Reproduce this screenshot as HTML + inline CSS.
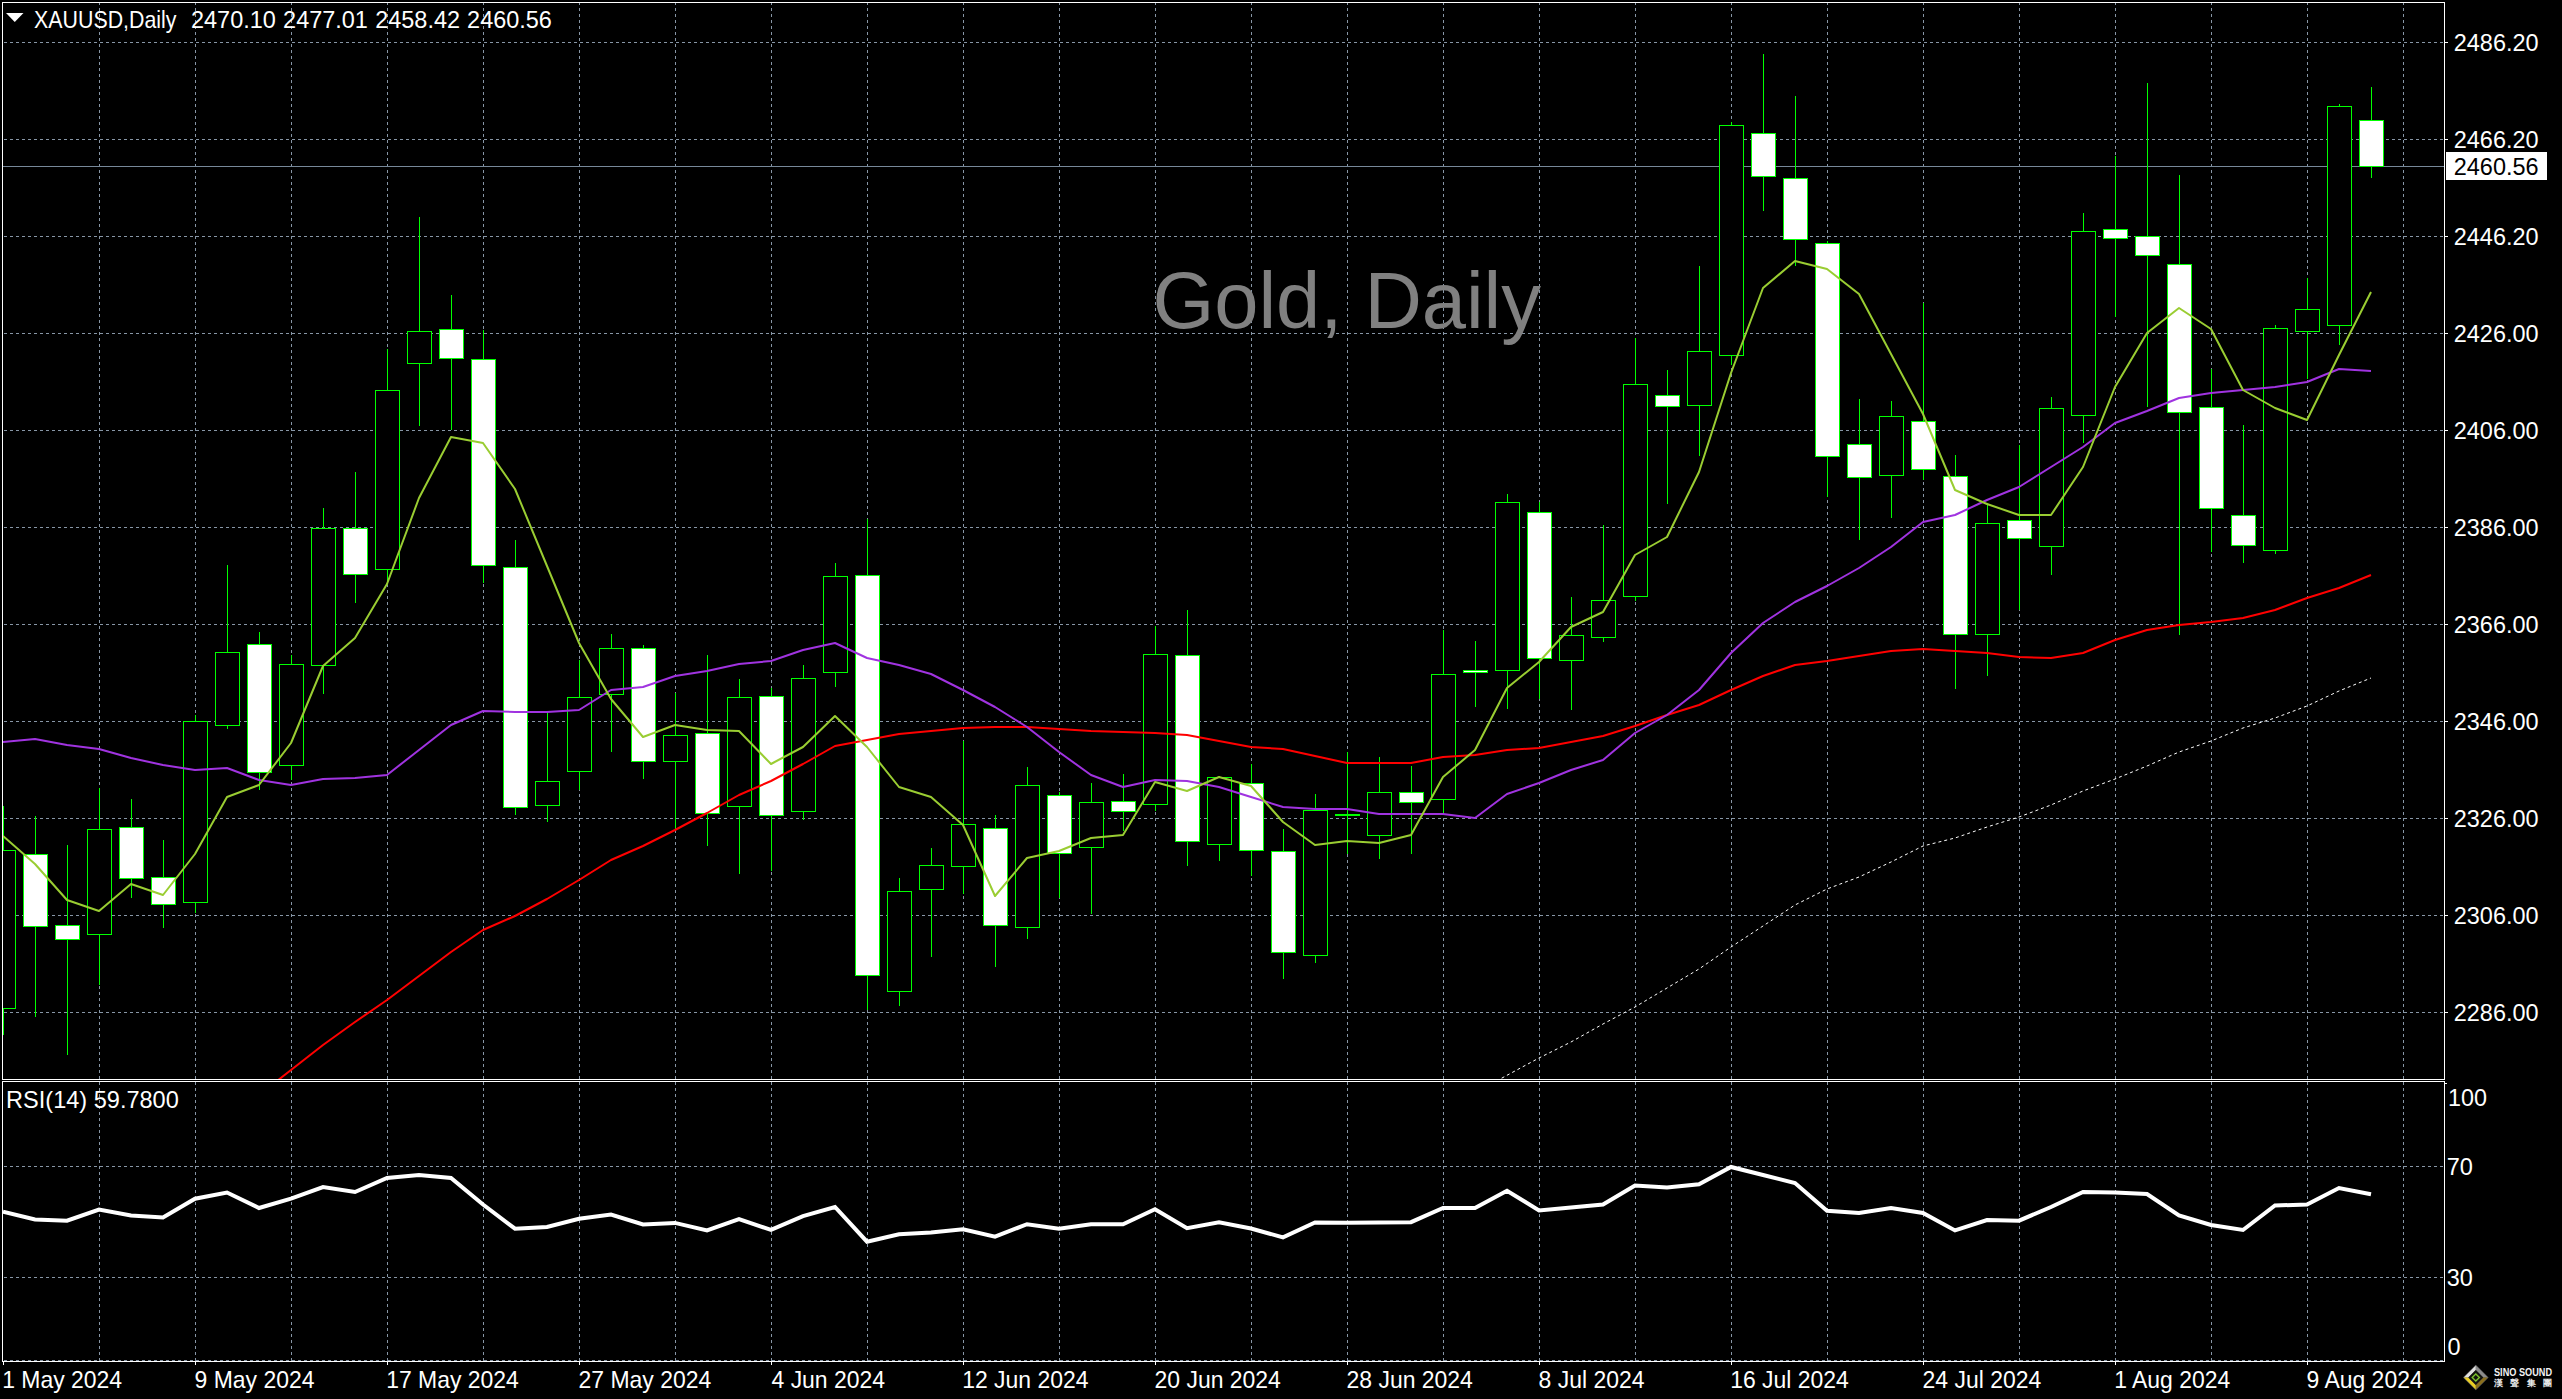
<!DOCTYPE html><html><head><meta charset="utf-8"><style>html,body{margin:0;padding:0;background:#000;width:2562px;height:1399px;overflow:hidden}svg{display:block}text{font-family:"Liberation Sans",sans-serif;fill:#fff}</style></head><body>
<svg width="2562" height="1399" viewBox="0 0 2562 1399">
<defs><clipPath id="cm"><rect x="3" y="3" width="2441" height="1076"/></clipPath><clipPath id="cr"><rect x="3" y="1082" width="2441" height="278"/></clipPath></defs>
<rect width="2562" height="1399" fill="#000"/>
<path d="M4 42.5H2444M4 139.5H2444M4 236.5H2444M4 333.5H2444M4 430.5H2444M4 527.5H2444M4 624.5H2444M4 721.5H2444M4 818.5H2444M4 915.5H2444M4 1012.5H2444M99.5 2V1079M99.5 1082V1361M195.5 2V1079M195.5 1082V1361M291.5 2V1079M291.5 1082V1361M387.5 2V1079M387.5 1082V1361M483.5 2V1079M483.5 1082V1361M579.5 2V1079M579.5 1082V1361M675.5 2V1079M675.5 1082V1361M771.5 2V1079M771.5 1082V1361M867.5 2V1079M867.5 1082V1361M963.5 2V1079M963.5 1082V1361M1059.5 2V1079M1059.5 1082V1361M1155.5 2V1079M1155.5 1082V1361M1251.5 2V1079M1251.5 1082V1361M1347.5 2V1079M1347.5 1082V1361M1443.5 2V1079M1443.5 1082V1361M1539.5 2V1079M1539.5 1082V1361M1635.5 2V1079M1635.5 1082V1361M1731.5 2V1079M1731.5 1082V1361M1827.5 2V1079M1827.5 1082V1361M1923.5 2V1079M1923.5 1082V1361M2019.5 2V1079M2019.5 1082V1361M2115.5 2V1079M2115.5 1082V1361M2211.5 2V1079M2211.5 1082V1361M2307.5 2V1079M2307.5 1082V1361M2403.5 2V1079M2403.5 1082V1361M4 1166.5H2444M4 1277.5H2444M4 1360.5H2444" stroke="#8796a6" stroke-width="1" stroke-dasharray="3 3" fill="none" shape-rendering="crispEdges"/>
<path d="M3 166.5H2444" stroke="#778899" stroke-width="1" shape-rendering="crispEdges"/>
<g clip-path="url(#cm)" shape-rendering="crispEdges">
<path d="M3.5 806V1035M35.5 816V1017M67.5 845V1055M99.5 788V985M131.5 799V898M163.5 840V928M195.5 715V913M227.5 565V729M259.5 632V790M291.5 655V780M323.5 508V694M355.5 472V603M387.5 349V585M419.5 217V426M451.5 295V430M483.5 330V583M515.5 540V815M547.5 713V822M579.5 660V790M611.5 634V752M643.5 645V779M675.5 693V829M707.5 655V846M739.5 679V874M771.5 688V871M803.5 665V820M835.5 563V687M867.5 519V1010M899.5 878V1006M931.5 848V957M963.5 741V894M995.5 815V967M1027.5 767V939M1059.5 792V898M1091.5 783V914M1123.5 774V831M1155.5 626V811M1187.5 610V866M1219.5 776V861M1251.5 764V876M1283.5 829V979M1315.5 794V963M1347.5 752V854M1379.5 757V859M1411.5 766V854M1443.5 630V814M1475.5 641V707M1507.5 494V709M1539.5 502V699M1571.5 597V710M1603.5 525V642M1635.5 338V601M1667.5 370V504M1699.5 266V456M1731.5 122V365M1763.5 54V211M1795.5 96V266M1827.5 241V497M1859.5 399V540M1891.5 401V518M1923.5 303V480M1955.5 455V689M1987.5 503V676M2019.5 445V610M2051.5 397V575M2083.5 213V443M2115.5 156V317M2147.5 83V407M2179.5 175V635M2211.5 369V552M2243.5 425V563M2275.5 325V554M2307.5 278V379M2339.5 104V345M2371.5 87V178" stroke="#00ff00" stroke-width="1"/>
<rect x="-8.5" y="850.5" width="24" height="158" fill="#000" stroke="#00ff00" stroke-width="1"/>
<rect x="23.5" y="854.5" width="24" height="72" fill="#fff" stroke="#00ff00" stroke-width="1"/>
<rect x="55.5" y="925.5" width="24" height="14" fill="#fff" stroke="#00ff00" stroke-width="1"/>
<rect x="87.5" y="829.5" width="24" height="105" fill="#000" stroke="#00ff00" stroke-width="1"/>
<rect x="119.5" y="827.5" width="24" height="51" fill="#fff" stroke="#00ff00" stroke-width="1"/>
<rect x="151.5" y="877.5" width="24" height="27" fill="#fff" stroke="#00ff00" stroke-width="1"/>
<rect x="183.5" y="721.5" width="24" height="181" fill="#000" stroke="#00ff00" stroke-width="1"/>
<rect x="215.5" y="652.5" width="24" height="73" fill="#000" stroke="#00ff00" stroke-width="1"/>
<rect x="247.5" y="644.5" width="24" height="128" fill="#fff" stroke="#00ff00" stroke-width="1"/>
<rect x="279.5" y="664.5" width="24" height="101" fill="#000" stroke="#00ff00" stroke-width="1"/>
<rect x="311.5" y="528.5" width="24" height="137" fill="#000" stroke="#00ff00" stroke-width="1"/>
<rect x="343.5" y="528.5" width="24" height="46" fill="#fff" stroke="#00ff00" stroke-width="1"/>
<rect x="375.5" y="390.5" width="24" height="179" fill="#000" stroke="#00ff00" stroke-width="1"/>
<rect x="407.5" y="331.5" width="24" height="32" fill="#000" stroke="#00ff00" stroke-width="1"/>
<rect x="439.5" y="329.5" width="24" height="29" fill="#fff" stroke="#00ff00" stroke-width="1"/>
<rect x="471.5" y="359.5" width="24" height="206" fill="#fff" stroke="#00ff00" stroke-width="1"/>
<rect x="503.5" y="567.5" width="24" height="240" fill="#fff" stroke="#00ff00" stroke-width="1"/>
<rect x="535.5" y="781.5" width="24" height="24" fill="#000" stroke="#00ff00" stroke-width="1"/>
<rect x="567.5" y="697.5" width="24" height="74" fill="#000" stroke="#00ff00" stroke-width="1"/>
<rect x="599.5" y="648.5" width="24" height="46" fill="#000" stroke="#00ff00" stroke-width="1"/>
<rect x="631.5" y="648.5" width="24" height="113" fill="#fff" stroke="#00ff00" stroke-width="1"/>
<rect x="663.5" y="735.5" width="24" height="26" fill="#000" stroke="#00ff00" stroke-width="1"/>
<rect x="695.5" y="733.5" width="24" height="80" fill="#fff" stroke="#00ff00" stroke-width="1"/>
<rect x="727.5" y="697.5" width="24" height="109" fill="#000" stroke="#00ff00" stroke-width="1"/>
<rect x="759.5" y="696.5" width="24" height="119" fill="#fff" stroke="#00ff00" stroke-width="1"/>
<rect x="791.5" y="678.5" width="24" height="133" fill="#000" stroke="#00ff00" stroke-width="1"/>
<rect x="823.5" y="576.5" width="24" height="96" fill="#000" stroke="#00ff00" stroke-width="1"/>
<rect x="855.5" y="575.5" width="24" height="400" fill="#fff" stroke="#00ff00" stroke-width="1"/>
<rect x="887.5" y="891.5" width="24" height="100" fill="#000" stroke="#00ff00" stroke-width="1"/>
<rect x="919.5" y="865.5" width="24" height="24" fill="#000" stroke="#00ff00" stroke-width="1"/>
<rect x="951.5" y="824.5" width="24" height="42" fill="#000" stroke="#00ff00" stroke-width="1"/>
<rect x="983.5" y="828.5" width="24" height="97" fill="#fff" stroke="#00ff00" stroke-width="1"/>
<rect x="1015.5" y="785.5" width="24" height="142" fill="#000" stroke="#00ff00" stroke-width="1"/>
<rect x="1047.5" y="795.5" width="24" height="58" fill="#fff" stroke="#00ff00" stroke-width="1"/>
<rect x="1079.5" y="802.5" width="24" height="45" fill="#000" stroke="#00ff00" stroke-width="1"/>
<rect x="1111.5" y="801.5" width="24" height="10" fill="#fff" stroke="#00ff00" stroke-width="1"/>
<rect x="1143.5" y="654.5" width="24" height="150" fill="#000" stroke="#00ff00" stroke-width="1"/>
<rect x="1175.5" y="655.5" width="24" height="186" fill="#fff" stroke="#00ff00" stroke-width="1"/>
<rect x="1207.5" y="777.5" width="24" height="67" fill="#000" stroke="#00ff00" stroke-width="1"/>
<rect x="1239.5" y="783.5" width="24" height="67" fill="#fff" stroke="#00ff00" stroke-width="1"/>
<rect x="1271.5" y="851.5" width="24" height="101" fill="#fff" stroke="#00ff00" stroke-width="1"/>
<rect x="1303.5" y="810.5" width="24" height="145" fill="#000" stroke="#00ff00" stroke-width="1"/>
<rect x="1335.5" y="814.5" width="24" height="1" fill="#fff" stroke="#00ff00" stroke-width="1"/>
<rect x="1367.5" y="792.5" width="24" height="43" fill="#000" stroke="#00ff00" stroke-width="1"/>
<rect x="1399.5" y="792.5" width="24" height="10" fill="#fff" stroke="#00ff00" stroke-width="1"/>
<rect x="1431.5" y="674.5" width="24" height="125" fill="#000" stroke="#00ff00" stroke-width="1"/>
<rect x="1463.5" y="670.5" width="24" height="2" fill="#fff" stroke="#00ff00" stroke-width="1"/>
<rect x="1495.5" y="502.5" width="24" height="168" fill="#000" stroke="#00ff00" stroke-width="1"/>
<rect x="1527.5" y="512.5" width="24" height="146" fill="#fff" stroke="#00ff00" stroke-width="1"/>
<rect x="1559.5" y="635.5" width="24" height="25" fill="#000" stroke="#00ff00" stroke-width="1"/>
<rect x="1591.5" y="600.5" width="24" height="37" fill="#000" stroke="#00ff00" stroke-width="1"/>
<rect x="1623.5" y="384.5" width="24" height="212" fill="#000" stroke="#00ff00" stroke-width="1"/>
<rect x="1655.5" y="395.5" width="24" height="11" fill="#fff" stroke="#00ff00" stroke-width="1"/>
<rect x="1687.5" y="351.5" width="24" height="54" fill="#000" stroke="#00ff00" stroke-width="1"/>
<rect x="1719.5" y="125.5" width="24" height="230" fill="#000" stroke="#00ff00" stroke-width="1"/>
<rect x="1751.5" y="133.5" width="24" height="43" fill="#fff" stroke="#00ff00" stroke-width="1"/>
<rect x="1783.5" y="178.5" width="24" height="61" fill="#fff" stroke="#00ff00" stroke-width="1"/>
<rect x="1815.5" y="243.5" width="24" height="213" fill="#fff" stroke="#00ff00" stroke-width="1"/>
<rect x="1847.5" y="444.5" width="24" height="33" fill="#fff" stroke="#00ff00" stroke-width="1"/>
<rect x="1879.5" y="416.5" width="24" height="59" fill="#000" stroke="#00ff00" stroke-width="1"/>
<rect x="1911.5" y="421.5" width="24" height="48" fill="#fff" stroke="#00ff00" stroke-width="1"/>
<rect x="1943.5" y="476.5" width="24" height="158" fill="#fff" stroke="#00ff00" stroke-width="1"/>
<rect x="1975.5" y="523.5" width="24" height="111" fill="#000" stroke="#00ff00" stroke-width="1"/>
<rect x="2007.5" y="520.5" width="24" height="18" fill="#fff" stroke="#00ff00" stroke-width="1"/>
<rect x="2039.5" y="408.5" width="24" height="138" fill="#000" stroke="#00ff00" stroke-width="1"/>
<rect x="2071.5" y="231.5" width="24" height="184" fill="#000" stroke="#00ff00" stroke-width="1"/>
<rect x="2103.5" y="229.5" width="24" height="9" fill="#fff" stroke="#00ff00" stroke-width="1"/>
<rect x="2135.5" y="236.5" width="24" height="19" fill="#fff" stroke="#00ff00" stroke-width="1"/>
<rect x="2167.5" y="264.5" width="24" height="148" fill="#fff" stroke="#00ff00" stroke-width="1"/>
<rect x="2199.5" y="407.5" width="24" height="101" fill="#fff" stroke="#00ff00" stroke-width="1"/>
<rect x="2231.5" y="515.5" width="24" height="30" fill="#fff" stroke="#00ff00" stroke-width="1"/>
<rect x="2263.5" y="328.5" width="24" height="222" fill="#000" stroke="#00ff00" stroke-width="1"/>
<rect x="2295.5" y="309.5" width="24" height="22" fill="#000" stroke="#00ff00" stroke-width="1"/>
<rect x="2327.5" y="106.5" width="24" height="219" fill="#000" stroke="#00ff00" stroke-width="1"/>
<rect x="2359.5" y="120.5" width="24" height="46" fill="#fff" stroke="#00ff00" stroke-width="1"/>
</g>
<g clip-path="url(#cm)" fill="none" stroke-linejoin="round">
<polyline points="1475.0,1092.0 1502.0,1078.0 1539.0,1058.0 1571.0,1042.0 1603.0,1024.0 1635.0,1007.0 1667.0,988.0 1699.0,969.0 1731.0,947.0 1763.0,926.0 1795.0,905.0 1827.0,889.0 1859.0,877.0 1891.0,862.0 1923.0,846.0 1955.0,838.0 1987.0,827.0 2019.0,817.0 2051.0,805.0 2083.0,791.0 2115.0,779.0 2147.0,766.0 2179.0,752.0 2211.0,741.0 2243.0,728.0 2275.0,718.0 2307.0,706.0 2339.0,691.0 2371.0,678.0" stroke="#ffffff" stroke-width="1" stroke-dasharray="3 3"/>
<polyline points="227.0,1120.0 259.0,1095.0 291.0,1070.0 323.0,1045.0 355.0,1022.0 387.0,1000.0 419.0,976.0 451.0,952.0 483.0,930.0 515.0,916.0 547.0,899.0 579.0,880.0 611.0,860.0 643.0,846.0 675.0,830.0 707.0,813.0 739.0,795.0 771.0,781.0 803.0,764.0 835.0,746.0 867.0,740.0 899.0,734.0 931.0,731.0 963.0,728.0 995.0,727.0 1027.0,727.0 1059.0,729.0 1091.0,731.0 1123.0,732.0 1155.0,733.0 1187.0,735.0 1219.0,741.0 1251.0,747.0 1283.0,749.0 1315.0,756.0 1347.0,763.0 1379.0,763.0 1411.0,763.0 1443.0,757.0 1475.0,755.0 1507.0,750.0 1539.0,748.0 1571.0,742.0 1603.0,736.0 1635.0,726.0 1667.0,715.0 1699.0,705.0 1731.0,690.0 1763.0,676.0 1795.0,665.0 1827.0,661.0 1859.0,656.0 1891.0,651.0 1923.0,649.0 1955.0,651.0 1987.0,653.0 2019.0,657.0 2051.0,658.0 2083.0,653.0 2115.0,640.0 2147.0,630.0 2179.0,625.0 2211.0,622.0 2243.0,618.0 2275.0,610.0 2307.0,598.0 2339.0,588.0 2371.0,575.0" stroke="#ff0000" stroke-width="2"/>
<polyline points="3.0,742.0 35.0,739.0 67.0,745.0 99.0,749.0 131.0,758.0 163.0,765.0 195.0,770.0 227.0,768.0 259.0,780.0 291.0,785.0 323.0,779.0 355.0,778.0 387.0,775.0 419.0,750.0 451.0,725.0 483.0,711.0 515.0,712.0 547.0,712.0 579.0,710.0 611.0,690.0 643.0,687.0 675.0,676.0 707.0,671.0 739.0,664.0 771.0,661.0 803.0,650.0 835.0,643.0 867.0,658.0 899.0,665.0 931.0,674.0 963.0,690.0 995.0,707.0 1027.0,727.0 1059.0,752.0 1091.0,775.0 1123.0,787.0 1155.0,780.0 1187.0,781.0 1219.0,787.0 1251.0,797.0 1283.0,807.0 1315.0,809.0 1347.0,809.0 1379.0,814.0 1411.0,814.0 1443.0,814.0 1475.0,818.0 1507.0,794.0 1539.0,783.0 1571.0,770.0 1603.0,760.0 1635.0,733.0 1667.0,715.0 1699.0,690.0 1731.0,653.0 1763.0,623.0 1795.0,602.0 1827.0,586.0 1859.0,568.0 1891.0,547.0 1923.0,522.0 1955.0,515.0 1987.0,500.0 2019.0,487.0 2051.0,467.0 2083.0,447.0 2115.0,423.0 2147.0,411.0 2179.0,398.0 2211.0,393.0 2243.0,390.0 2275.0,387.0 2307.0,382.0 2339.0,369.0 2371.0,371.0" stroke="#a033e0" stroke-width="2"/>
<polyline points="3.0,836.0 35.0,864.0 67.0,900.0 99.0,911.0 131.0,884.0 163.0,895.0 195.0,854.0 227.0,797.0 259.0,785.0 291.0,743.0 323.0,666.0 355.0,638.0 387.0,584.0 419.0,498.0 451.0,437.0 483.0,443.0 515.0,489.0 547.0,566.0 579.0,643.0 611.0,699.0 643.0,737.0 675.0,725.0 707.0,730.0 739.0,731.0 771.0,764.0 803.0,747.0 835.0,716.0 867.0,747.0 899.0,787.0 931.0,797.0 963.0,825.0 995.0,896.0 1027.0,858.0 1059.0,851.0 1091.0,838.0 1123.0,835.0 1155.0,782.0 1187.0,791.0 1219.0,777.0 1251.0,786.0 1283.0,822.0 1315.0,845.0 1347.0,841.0 1379.0,843.0 1411.0,835.0 1443.0,777.0 1475.0,750.0 1507.0,688.0 1539.0,662.0 1571.0,627.0 1603.0,612.0 1635.0,555.0 1667.0,537.0 1699.0,472.0 1731.0,373.0 1763.0,288.0 1795.0,261.0 1827.0,269.0 1859.0,294.0 1891.0,354.0 1923.0,414.0 1955.0,490.0 1987.0,504.0 2019.0,515.0 2051.0,515.0 2083.0,467.0 2115.0,387.0 2147.0,333.0 2179.0,308.0 2211.0,329.0 2243.0,390.0 2275.0,408.0 2307.0,420.0 2339.0,355.0 2371.0,292.0" stroke="#9acd32" stroke-width="2"/>
</g>
<g clip-path="url(#cr)"><polyline points="3.0,1211.7 35.0,1219.4 67.0,1220.7 99.0,1209.5 131.0,1215.5 163.0,1217.4 195.0,1198.7 227.0,1192.5 259.0,1208.0 291.0,1198.7 323.0,1187.0 355.0,1192.0 387.0,1178.0 419.0,1175.0 451.0,1178.0 483.0,1204.5 515.0,1228.7 547.0,1227.0 579.0,1218.7 611.0,1214.5 643.0,1224.4 675.0,1222.9 707.0,1230.4 739.0,1219.2 771.0,1229.9 803.0,1216.2 835.0,1207.0 867.0,1241.7 899.0,1234.2 931.0,1232.4 963.0,1229.2 995.0,1236.7 1027.0,1224.2 1059.0,1228.7 1091.0,1224.2 1123.0,1224.2 1155.0,1209.2 1187.0,1228.2 1219.0,1222.4 1251.0,1228.5 1283.0,1237.4 1315.0,1222.4 1347.0,1222.8 1379.0,1222.5 1411.0,1222.2 1443.0,1208.0 1475.0,1208.0 1507.0,1190.7 1539.0,1210.5 1571.0,1207.5 1603.0,1204.5 1635.0,1185.5 1667.0,1187.5 1699.0,1184.2 1731.0,1167.0 1763.0,1175.0 1795.0,1183.0 1827.0,1210.7 1859.0,1213.0 1891.0,1208.0 1923.0,1213.0 1955.0,1230.4 1987.0,1220.0 2019.0,1220.7 2051.0,1207.0 2083.0,1192.0 2115.0,1192.5 2147.0,1194.0 2179.0,1215.5 2211.0,1225.0 2243.0,1230.0 2275.0,1205.5 2307.0,1204.5 2339.0,1188.0 2371.0,1194.2" fill="none" stroke="#fff" stroke-width="4" stroke-linejoin="miter"/></g>
<g fill="none" stroke="#fff" stroke-width="1" shape-rendering="crispEdges">
<rect x="2.5" y="2.5" width="2442" height="1077"/>
<rect x="2.5" y="1081.5" width="2442" height="280"/>
<path d="M2445 42.5H2448M2445 139.5H2448M2445 236.5H2448M2445 333.5H2448M2445 430.5H2448M2445 527.5H2448M2445 624.5H2448M2445 721.5H2448M2445 818.5H2448M2445 915.5H2448M2445 1012.5H2448M2445 1083.5H2447M3.5 1362V1365M195.5 1362V1365M387.5 1362V1365M579.5 1362V1365M771.5 1362V1365M963.5 1362V1365M1155.5 1362V1365M1347.5 1362V1365M1539.5 1362V1365M1731.5 1362V1365M1923.5 1362V1365M2115.5 1362V1365M2307.5 1362V1365"/>
</g>
<rect x="2446" y="152" width="101" height="28" fill="#fff"/>
<text transform="translate(1152.43,328) scale(0.9933,1)" x="0" y="0" font-size="80" font-weight="400" style="fill:#808080">Gold, Daily</text>
<text transform="translate(34.11,28) scale(0.8899,1)" x="0" y="0" font-size="24" font-weight="400" style="fill:#fff">XAUUSD,Daily</text>
<text transform="translate(191.02,28) scale(0.9780,1)" x="0" y="0" font-size="24" font-weight="400" style="fill:#fff">2470.10</text>
<text transform="translate(283.12,28) scale(0.9780,1)" x="0" y="0" font-size="24" font-weight="400" style="fill:#fff">2477.01</text>
<text transform="translate(375.22,28) scale(0.9780,1)" x="0" y="0" font-size="24" font-weight="400" style="fill:#fff">2458.42</text>
<text transform="translate(467.12,28) scale(0.9780,1)" x="0" y="0" font-size="24" font-weight="400" style="fill:#fff">2460.56</text>
<text transform="translate(6.04,1108) scale(0.9815,1)" x="0" y="0" font-size="24" font-weight="400" style="fill:#fff">RSI(14) 59.7800</text>
<text transform="translate(2453.77,51) scale(0.9780,1)" x="0" y="0" font-size="24" font-weight="400" style="fill:#fff">2486.20</text>
<text transform="translate(2453.77,148) scale(0.9780,1)" x="0" y="0" font-size="24" font-weight="400" style="fill:#fff">2466.20</text>
<text transform="translate(2453.77,245) scale(0.9780,1)" x="0" y="0" font-size="24" font-weight="400" style="fill:#fff">2446.20</text>
<text transform="translate(2453.77,342) scale(0.9780,1)" x="0" y="0" font-size="24" font-weight="400" style="fill:#fff">2426.00</text>
<text transform="translate(2453.77,439) scale(0.9780,1)" x="0" y="0" font-size="24" font-weight="400" style="fill:#fff">2406.00</text>
<text transform="translate(2453.77,536) scale(0.9780,1)" x="0" y="0" font-size="24" font-weight="400" style="fill:#fff">2386.00</text>
<text transform="translate(2453.77,633) scale(0.9780,1)" x="0" y="0" font-size="24" font-weight="400" style="fill:#fff">2366.00</text>
<text transform="translate(2453.77,730) scale(0.9780,1)" x="0" y="0" font-size="24" font-weight="400" style="fill:#fff">2346.00</text>
<text transform="translate(2453.77,827) scale(0.9780,1)" x="0" y="0" font-size="24" font-weight="400" style="fill:#fff">2326.00</text>
<text transform="translate(2453.77,924) scale(0.9780,1)" x="0" y="0" font-size="24" font-weight="400" style="fill:#fff">2306.00</text>
<text transform="translate(2453.77,1021) scale(0.9780,1)" x="0" y="0" font-size="24" font-weight="400" style="fill:#fff">2286.00</text>
<text transform="translate(2453.77,175) scale(0.9782,1)" x="0" y="0" font-size="24" font-weight="400" style="fill:#000">2460.56</text>
<text transform="translate(2448.05,1106) scale(0.9730,1)" x="0" y="0" font-size="24" font-weight="400" style="fill:#fff">100</text>
<text transform="translate(2446.77,1175) scale(0.9820,1)" x="0" y="0" font-size="24" font-weight="400" style="fill:#fff">70</text>
<text transform="translate(2446.77,1286) scale(0.9780,1)" x="0" y="0" font-size="24" font-weight="400" style="fill:#fff">30</text>
<text transform="translate(2447.52,1355) scale(0.9780,1)" x="0" y="0" font-size="24" font-weight="400" style="fill:#fff">0</text>
<text transform="translate(2.15,1388) scale(0.9570,1)" x="0" y="0" font-size="24" font-weight="400" style="fill:#fff">1 May 2024</text>
<text transform="translate(194.54,1388) scale(0.9570,1)" x="0" y="0" font-size="24" font-weight="400" style="fill:#fff">9 May 2024</text>
<text transform="translate(386.15,1388) scale(0.9570,1)" x="0" y="0" font-size="24" font-weight="400" style="fill:#fff">17 May 2024</text>
<text transform="translate(578.54,1388) scale(0.9570,1)" x="0" y="0" font-size="24" font-weight="400" style="fill:#fff">27 May 2024</text>
<text transform="translate(771.50,1388) scale(0.9570,1)" x="0" y="0" font-size="24" font-weight="400" style="fill:#fff">4 Jun 2024</text>
<text transform="translate(962.15,1388) scale(0.9570,1)" x="0" y="0" font-size="24" font-weight="400" style="fill:#fff">12 Jun 2024</text>
<text transform="translate(1154.54,1388) scale(0.9570,1)" x="0" y="0" font-size="24" font-weight="400" style="fill:#fff">20 Jun 2024</text>
<text transform="translate(1346.54,1388) scale(0.9570,1)" x="0" y="0" font-size="24" font-weight="400" style="fill:#fff">28 Jun 2024</text>
<text transform="translate(1538.54,1388) scale(0.9570,1)" x="0" y="0" font-size="24" font-weight="400" style="fill:#fff">8 Jul 2024</text>
<text transform="translate(1730.15,1388) scale(0.9570,1)" x="0" y="0" font-size="24" font-weight="400" style="fill:#fff">16 Jul 2024</text>
<text transform="translate(1922.54,1388) scale(0.9570,1)" x="0" y="0" font-size="24" font-weight="400" style="fill:#fff">24 Jul 2024</text>
<text transform="translate(2114.15,1388) scale(0.9570,1)" x="0" y="0" font-size="24" font-weight="400" style="fill:#fff">1 Aug 2024</text>
<text transform="translate(2306.54,1388) scale(0.9570,1)" x="0" y="0" font-size="24" font-weight="400" style="fill:#fff">9 Aug 2024</text>
<polygon points="6,13 23.5,13 14.75,22" fill="#fff"/>
<g transform="translate(2475.8,1377.5)"><polygon points="0,-12.8 12.8,0 0,12.8 -12.8,0" fill="#5a5a5a"/><polygon points="0,-12 -12,0 -7.5,0 0,-7.5" fill="#e0e0e0"/><polygon points="0,-12 12,0 7.5,0 0,-7.5" fill="#8c8c8c"/><polygon points="-12,0 0,12 0,7.5 -7.5,0" fill="#e8cc22"/><polygon points="12,0 0,12 0,7.5 7.5,0" fill="#8a6e1c"/><polygon points="0,-7.5 7.5,0 0,7.5 -7.5,0" fill="#141410"/><polygon points="0,-3.6 3.6,0 0,3.6 -3.6,0" fill="none" stroke="#7cc42c" stroke-width="1.4"/></g>
<text x="2494" y="1376" font-size="10.5" font-weight="bold" style="fill:#f4f4f4" textLength="58" lengthAdjust="spacingAndGlyphs">SINO SOUND</text>
<text x="2494" y="1385.8" font-size="8.5" font-weight="bold" style="fill:#e8e8e8" textLength="58" lengthAdjust="spacing">漢 聲 集 團</text>
</svg></body></html>
